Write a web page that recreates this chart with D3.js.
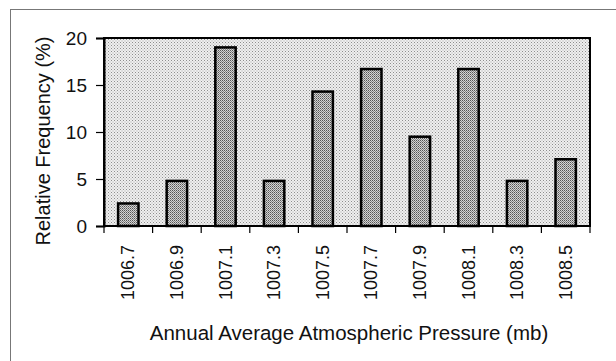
<!DOCTYPE html>
<html>
<head>
<meta charset="utf-8">
<script src="https://cdn.jsdelivr.net/npm/d3@7"></script>
<style>
  body { margin: 0; background: #fff; }
  text { font-family: "Liberation Sans", Arial, sans-serif; fill: #111; }
</style>
</head>
<body>
<svg id="chart" width="616" height="361"></svg>
<script>
// pressure classes (mb) and relative frequency (%)
var categories = ["1006.7", "1006.9", "1007.1", "1007.3", "1007.5", "1007.7", "1007.9", "1008.1", "1008.3", "1008.5"];
var frequency = [2.4, 4.8, 19.0, 4.8, 14.3, 16.7, 9.5, 16.7, 4.8, 7.1];
var yTicks = [0, 5, 10, 15, 20];

var svg = d3.select("#chart"),
    width = +svg.attr("width"),
    height = +svg.attr("height");

var margin = {left: 104, right: 26, top: 38, bottom: 135};

var defs = svg.append("defs");

// light dotted fill for the plot background
var bgPat = defs.append("pattern")
    .attr("id", "bgDots")
    .attr("patternUnits", "userSpaceOnUse")
    .attr("width", 3).attr("height", 3);
bgPat.append("rect").attr("width", 3).attr("height", 3).attr("fill", "#efefef");
bgPat.append("rect").attr("x", 0).attr("y", 0).attr("width", 1).attr("height", 1).attr("fill", "#8e8e8e");
bgPat.append("rect").attr("x", 1.5).attr("y", 1.5).attr("width", 1).attr("height", 1).attr("fill", "#aaaaaa");

// denser dots for the bars
var barPat = defs.append("pattern")
    .attr("id", "barDots")
    .attr("patternUnits", "userSpaceOnUse")
    .attr("width", 2).attr("height", 2);
barPat.append("rect").attr("width", 2).attr("height", 2).attr("fill", "#d4d4d4");
barPat.append("rect").attr("width", 1).attr("height", 1).attr("fill", "#555");
barPat.append("rect").attr("x", 1).attr("y", 1).attr("width", 1).attr("height", 1).attr("fill", "#858585");

// outer frame (only top and left edges show in the photo)
svg.append("rect")
    .attr("x", 10.5).attr("y", 9.5)
    .attr("width", 640).attr("height", 400)
    .attr("fill", "none")
    .attr("stroke", "#777")
    .attr("stroke-width", 1);

var x = d3.scaleBand()
    .domain(categories)
    .range([margin.left, width - margin.right])
    .paddingInner(0.58)
    .paddingOuter(0.29);

var y = d3.scaleLinear()
    .domain([0, 20])
    .range([height - margin.bottom, margin.top]);

var plot = svg.append("g");

plot.append("rect")
    .attr("x", margin.left).attr("y", margin.top)
    .attr("width", width - margin.right - margin.left)
    .attr("height", height - margin.bottom - margin.top)
    .attr("fill", "url(#bgDots)")
    .attr("stroke", "#000")
    .attr("stroke-width", 2);

plot.selectAll("rect.bar")
    .data(frequency)
    .enter().append("rect")
    .attr("class", "bar")
    .attr("x", function(d, i) { return x(categories[i]); })
    .attr("y", function(d) { return y(d); })
    .attr("width", x.bandwidth())
    .attr("height", function(d) { return y(0) - y(d); })
    .attr("fill", "url(#barDots)")
    .attr("stroke", "#000")
    .attr("stroke-width", 2.5);

// y axis
var yAxis = svg.append("g")
    .attr("transform", "translate(" + margin.left + ",0)")
    .call(d3.axisLeft(y).tickValues(yTicks).tickSize(8).tickPadding(9));
yAxis.select(".domain").attr("stroke", "#000").attr("stroke-width", 2);
yAxis.selectAll(".tick line").attr("stroke", "#000").attr("stroke-width", 1.2);
yAxis.selectAll("text").style("font-size", "19px").attr("dy", "0.36em").attr("fill", "#111");

// x axis: ticks at category boundaries, labels rotated
var step = x.step();
var bounds = d3.range(categories.length + 1).map(function(i) { return margin.left + i * step; });
var xg = svg.append("g").attr("transform", "translate(0," + y(0) + ")");
xg.append("line")
    .attr("x1", margin.left).attr("x2", width - margin.right)
    .attr("stroke", "#000").attr("stroke-width", 2);
xg.selectAll("line.tick")
    .data(bounds)
    .enter().append("line")
    .attr("class", "tick")
    .attr("x1", function(d) { return d; }).attr("x2", function(d) { return d; })
    .attr("y1", 0).attr("y2", 7)
    .attr("stroke", "#000").attr("stroke-width", 1.2);
xg.selectAll("text")
    .data(categories)
    .enter().append("text")
    .attr("transform", function(d) {
        return "translate(" + (x(d) + x.bandwidth() / 2 + 6) + ",19) rotate(-90)";
    })
    .attr("text-anchor", "end")
    .style("font-size", "18px")
    .text(function(d) { return d; });

// axis titles
svg.append("text")
    .attr("transform", "translate(50,141) rotate(-90)")
    .attr("text-anchor", "middle")
    .style("font-size", "20px")
    .text("Relative Frequency (%)");

svg.append("text")
    .attr("x", 349).attr("y", 340)
    .attr("text-anchor", "middle")
    .style("font-size", "20.5px")
    .text("Annual Average Atmospheric Pressure (mb)");
</script>
</body>
</html>
